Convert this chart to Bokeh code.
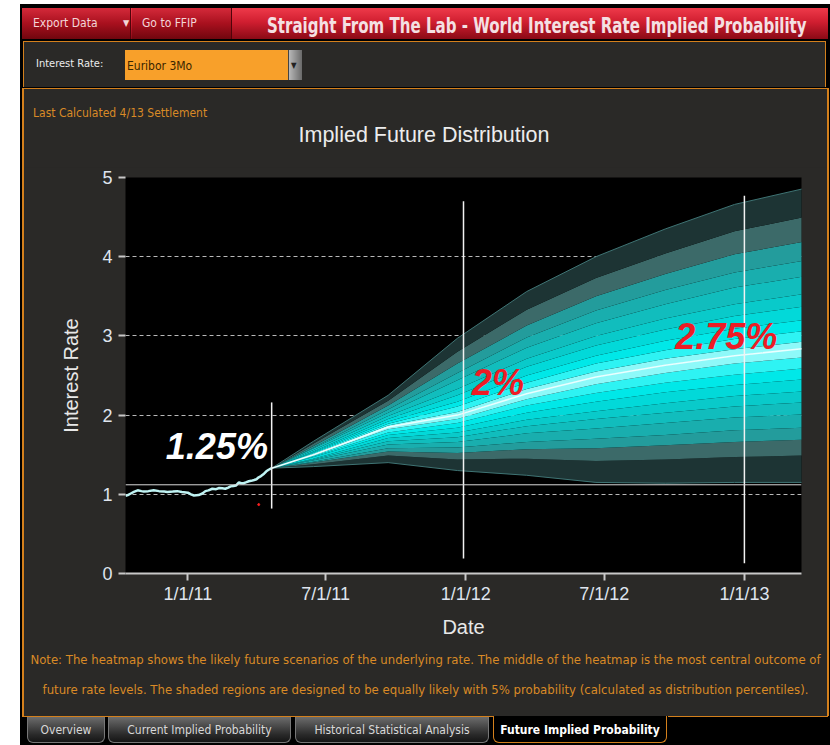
import numpy as np
import pandas as pd
from bokeh.plotting import figure
from bokeh.models import Range1d, FixedTicker, Label, Span, Div, Spacer, ColumnDataSource
from bokeh.layouts import column, row
from bokeh.embed import file_html
from bokeh.resources import INLINE

# ---------------- data ----------------
hist_dates = ["2010-10-11", "2010-10-14", "2010-10-18", "2010-10-22", "2010-10-27", "2010-11-01",
              "2010-11-04", "2010-11-10", "2010-11-17", "2010-11-24", "2010-12-01", "2010-12-05",
              "2010-12-12", "2010-12-18", "2010-12-24", "2011-01-01", "2011-01-05", "2011-01-09",
              "2011-01-15", "2011-01-20", "2011-01-24", "2011-01-28", "2011-02-02", "2011-02-07",
              "2011-02-11", "2011-02-15", "2011-02-19", "2011-02-23", "2011-02-26", "2011-03-02",
              "2011-03-05", "2011-03-09", "2011-03-12", "2011-03-15", "2011-03-18", "2011-03-22",
              "2011-03-25", "2011-03-29", "2011-04-01", "2011-04-04", "2011-04-07", "2011-04-11",
              "2011-04-14", "2011-04-17", "2011-04-21"]
hist_rate = [0.98, 0.99, 1.01, 1.03, 1.05, 1.04,
             1.035, 1.04, 1.05, 1.04, 1.035, 1.03,
             1.035, 1.04, 1.03, 1.02, 1.00, 0.985,
             0.99, 1.01, 1.04, 1.05, 1.07, 1.065,
             1.08, 1.075, 1.07, 1.085, 1.10, 1.105,
             1.11, 1.15, 1.14, 1.14, 1.15, 1.165,
             1.17, 1.18, 1.19, 1.215, 1.23, 1.26,
             1.29, 1.31, 1.33]

fan_dates = ["2011-04-21", "2011-06-15", "2011-09-21", "2011-12-21", "2012-03-21",
             "2012-06-20", "2012-09-19", "2012-12-19", "2013-03-20"]
p00 = [1.33, 1.35, 1.40, 1.30, 1.24, 1.15, 1.14, 1.15, 1.15]
p05 = [1.33, 1.38, 1.49, 1.44, 1.45, 1.42, 1.44, 1.47, 1.49]
p10 = [1.33, 1.40, 1.54, 1.52, 1.57, 1.58, 1.62, 1.66, 1.69]
p15 = [1.33, 1.41, 1.58, 1.59, 1.66, 1.70, 1.75, 1.81, 1.84]
p20 = [1.33, 1.43, 1.63, 1.66, 1.77, 1.83, 1.90, 1.97, 2.01]
p25 = [1.33, 1.44, 1.67, 1.72, 1.86, 1.95, 2.03, 2.11, 2.16]
p30 = [1.33, 1.45, 1.71, 1.78, 1.94, 2.05, 2.15, 2.24, 2.30]
p35 = [1.33, 1.47, 1.75, 1.84, 2.03, 2.17, 2.29, 2.38, 2.45]
p40 = [1.33, 1.48, 1.78, 1.90, 2.12, 2.28, 2.41, 2.51, 2.59]
p45 = [1.33, 1.49, 1.82, 1.95, 2.20, 2.39, 2.53, 2.65, 2.73]
p50 = [1.33, 1.50, 1.85, 2.00, 2.27, 2.48, 2.63, 2.75, 2.84]
p55 = [1.33, 1.51, 1.87, 2.04, 2.33, 2.55, 2.71, 2.83, 2.93]
p60 = [1.33, 1.52, 1.89, 2.11, 2.41, 2.65, 2.82, 2.96, 3.06]
p65 = [1.33, 1.53, 1.92, 2.17, 2.50, 2.75, 2.94, 3.09, 3.20]
p70 = [1.33, 1.54, 1.95, 2.25, 2.61, 2.88, 3.08, 3.25, 3.37]
p75 = [1.33, 1.56, 1.99, 2.33, 2.71, 3.00, 3.22, 3.40, 3.53]
p80 = [1.33, 1.58, 2.03, 2.44, 2.85, 3.16, 3.40, 3.61, 3.75]
p85 = [1.33, 1.59, 2.07, 2.53, 2.98, 3.32, 3.58, 3.80, 3.95]
p90 = [1.33, 1.61, 2.12, 2.65, 3.13, 3.50, 3.78, 4.03, 4.19]
p95 = [1.33, 1.64, 2.18, 2.80, 3.33, 3.73, 4.04, 4.32, 4.50]
p100 = [1.33, 1.67, 2.25, 2.97, 3.56, 4.00, 4.35, 4.66, 4.86]

marker_dates = ["2011-04-21", "2011-12-29", "2013-01-01"]
marker_lo = [0.82, 0.19, 0.13]
marker_hi = [2.16, 4.70, 4.77]
stray_rule_y = 1.12

callout_texts = ["1.25%", "2%", "2.75%"]
callout_dates = ["2010-12-03", "2012-01-09", "2012-10-02"]
callout_y = [1.605, 2.406, 2.994]
callout_colors = ["#ffffff", "#ee1c25", "#ee1c25"]

x_tick_dates = ["2011-01-01", "2011-07-01", "2012-01-01", "2012-07-01", "2013-01-01"]
x_tick_labels = ["1/1/11", "7/1/11", "1/1/12", "7/1/12", "1/1/13"]
y_ticks = [0, 1, 2, 3, 4, 5]

band_colors = ["#1d3434", "#3c6a69", "#239c9c", "#19aeae", "#11bdbd",
               "#09caca", "#02d9d9", "#00e8e8", "#2ef3f3", "#8ef9f9"]


def ms(d):
    return float((np.datetime64(d) - np.datetime64("1970-01-01")) / np.timedelta64(1, "ms"))


AX = "Liberation Sans, Arial, sans-serif"
UI = "'DejaVu Sans Condensed', 'Liberation Sans Narrow', sans-serif"
PANEL = "#2a2927"
ORANGE = "#d4801c"

# ---------------- figure ----------------
p = figure(width=803, height=476, x_axis_type="datetime",
           x_range=Range1d(ms("2010-10-11"), ms("2013-03-17")), y_range=Range1d(0, 5),
           output_backend="svg", toolbar_location=None,
           min_border_left=101, min_border_right=26, min_border_top=10, min_border_bottom=70,
           background_fill_color="black", border_fill_color=PANEL, outline_line_color=None,
           styles={"background-color": PANEL})

percentiles = [p00, p05, p10, p15, p20, p25, p30, p35, p40, p45, p50,
               p55, p60, p65, p70, p75, p80, p85, p90, p95, p100]
fan_src = ColumnDataSource({"x": pd.to_datetime(fan_dates),
                            **{f"q{i}": percentiles[i] for i in range(21)}})
for i in range(20):
    ci = i if i < 10 else 19 - i
    p.varea(x="x", y1=f"q{i}", y2=f"q{i+1}", source=fan_src, fill_color=band_colors[ci])
p.line(x="x", y="q0", source=fan_src, line_color="#3f7474", line_width=1)
p.line(x="x", y="q20", source=fan_src, line_color="#3f7474", line_width=1)
p.line(x="x", y="q10", source=fan_src, line_color="#eaffff", line_width=1.5)

hist_src = ColumnDataSource({"x": pd.to_datetime(hist_dates), "y": hist_rate})
p.line(x="x", y="y", source=hist_src, line_color="#bff3f3", line_width=2.5)

mk_src = ColumnDataSource({"x": pd.to_datetime(marker_dates), "lo": marker_lo, "hi": marker_hi})
p.segment(x0="x", y0="lo", x1="x", y1="hi", source=mk_src, line_color="#f2f2f2", line_width=1.5)

p.scatter(x=pd.to_datetime(["2011-04-04"]), y=[0.87], size=2, color="#ff2020")

for t, d, yv, c in zip(callout_texts, callout_dates, callout_y, callout_colors):
    p.add_layout(Label(x=ms(d), y=yv, text=t, text_color=c, text_font=AX,
                       text_font_size="36px", text_font_style="bold italic",
                       text_align="left", text_baseline="alphabetic"))

p.add_layout(Span(location=stray_rule_y, dimension="width", line_color="#d8d8d8", line_width=1))

# axes
p.xaxis.ticker = FixedTicker(ticks=[ms(d) for d in x_tick_dates])
p.xaxis.major_label_overrides = {ms(d): l for d, l in zip(x_tick_dates, x_tick_labels)}
p.yaxis.ticker = FixedTicker(ticks=y_ticks)
p.xgrid.visible = False
p.ygrid.ticker = FixedTicker(ticks=y_ticks)
p.ygrid.grid_line_color = "#b8b8b8"
p.ygrid.grid_line_dash = "4 3"
p.ygrid.grid_line_width = 1

for ax in (p.xaxis[0], p.yaxis[0]):
    ax.major_tick_line_color = "#c8c8c8"
    ax.major_tick_line_width = 2
    ax.major_tick_out = 7
    ax.major_tick_in = 0
    ax.minor_tick_line_color = None
    ax.major_label_text_color = "#dfe4ee"
    ax.major_label_text_font = AX
    ax.major_label_text_font_size = "18px"
    ax.axis_label_text_color = "#e8e8e8"
    ax.axis_label_text_font = AX
    ax.axis_label_text_font_size = "20px"
    ax.axis_label_text_font_style = "normal"
p.xaxis.axis_line_color = "#c8c8c8"
p.xaxis.axis_line_width = 2
p.yaxis.axis_line_color = None
p.xaxis.axis_label = "Date"
p.yaxis.axis_label = "Interest Rate"
p.xaxis.major_label_standoff = 3
p.xaxis.axis_label_standoff = 9
p.yaxis.major_label_standoff = 6
p.yaxis.axis_label_standoff = 17

# ---------------- surrounding widgets ----------------
header_html = f"""
<div style="position:relative;width:810px;height:88px;font-family:{UI};overflow:hidden;">
  <div style="position:absolute;left:0;top:4px;width:810px;height:84px;background:#000;"></div>
  <div style="position:absolute;left:2px;top:8px;width:806px;height:31px;
       background:linear-gradient(#ee3a4a,#d01e30 45%,#8a0a16);"></div>
  <div style="position:absolute;left:2px;top:8px;width:109px;height:31px;
       background:linear-gradient(#d42a3a,#a8101e 50%,#70060e);border-right:1px solid #50040a;"></div>
  <div style="position:absolute;left:112px;top:8px;width:100px;height:31px;
       background:linear-gradient(#d42a3a,#a8101e 50%,#70060e);border-right:1px solid #50040a;"></div>
  <div style="position:absolute;left:13px;top:15px;font-size:12px;color:#f3d6d8;">Export Data</div>
  <div style="position:absolute;left:103px;top:17px;font-size:9px;color:#f3d6d8;">&#9660;</div>
  <div style="position:absolute;left:122px;top:15px;font-size:12px;color:#f3d6d8;">Go to FFIP</div>
  <div style="position:absolute;left:247px;top:10px;font-size:22px;font-weight:bold;color:#f4e0e3;
       white-space:nowrap;transform-origin:0 0;transform:scaleX(0.76);">Straight From The Lab - World Interest Rate Implied Probability</div>
  <div style="position:absolute;left:3px;top:41px;width:803px;height:46px;background:{PANEL};
       border:1px solid {ORANGE};border-bottom:none;"></div>
  <div style="position:absolute;left:16px;top:56px;font-size:11px;color:#ececec;">Interest Rate:</div>
  <div style="position:absolute;left:105px;top:50px;width:163px;height:30px;background:#f8a02a;"></div>
  <div style="position:absolute;left:107px;top:58px;font-size:12px;color:#3a2600;">Euribor 3Mo</div>
  <div style="position:absolute;left:268px;top:50px;width:14px;height:30px;
       background:linear-gradient(to right,#b8b8b8,#6a6a6a);border-left:1px solid #444;"></div>
  <div style="position:absolute;left:271px;top:60px;font-size:8px;color:#222;">&#9660;</div>
</div>
"""
header = Div(text=header_html, width=810, height=88, margin=0)

top_html = f"""
<div style="position:relative;width:803px;height:79px;background:{PANEL};font-family:{UI};
     border-top:1px solid {ORANGE};box-sizing:border-box;">
  <div style="position:absolute;left:9px;top:16px;font-size:12px;color:#d98a26;white-space:nowrap;">Last Calculated 4/13 Settlement</div>
  <div style="position:absolute;left:0;top:31px;width:800px;text-align:center;font-size:21.5px;color:#ececec;
       font-family:{AX};">Implied Future Distribution</div>
</div>
"""
top_div = Div(text=top_html, width=803, height=79, margin=0, styles={"background-color": PANEL})

notes_html = f"""
<div style="position:relative;width:803px;height:73px;background:{PANEL};font-family:{UI};
     color:#d98a26;font-size:13px;text-align:center;line-height:30px;padding-top:2px;box-sizing:border-box;white-space:nowrap;">
  Note: The heatmap shows the likely future scenarios of the underlying rate. The middle of the heatmap is the most central outcome of<br>
  future rate levels. The shaded regions are designed to be equally likely with 5% probability (calculated as distribution percentiles).
</div>
"""
notes_div = Div(text=notes_html, width=803, height=73, margin=0, styles={"background-color": PANEL})

tab_css = ("position:absolute;top:1px;height:26px;background:linear-gradient(#6c6c6c,#2a2a2a 70%,#151515);"
           "border:1px solid #777;border-top:none;border-radius:0 0 6px 6px;color:#d8d8d8;"
           "font-size:12px;text-align:center;line-height:26px;white-space:nowrap;")
tabs_html = f"""
<div style="position:relative;width:810px;height:29px;background:#000;font-family:{UI};">
  <div style="position:absolute;left:2px;top:0;width:472px;height:1px;background:{ORANGE};"></div>
  <div style="position:absolute;left:648px;top:0;width:160px;height:1px;background:{ORANGE};"></div>
  <div style="{tab_css}left:7px;width:78px;">Overview</div>
  <div style="{tab_css}left:88px;width:183px;">Current Implied Probability</div>
  <div style="{tab_css}left:275px;width:194px;">Historical Statistical Analysis</div>
  <div style="position:absolute;left:473px;top:0;width:174px;height:27px;background:#000;
       border:1px solid {ORANGE};border-top:none;border-radius:0 0 6px 6px;color:#ffffff;
       font-weight:bold;font-size:12px;text-align:center;line-height:28px;white-space:nowrap;">Future Implied Probability</div>
</div>
"""
tabs = Div(text=tabs_html, width=810, height=29, margin=0, styles={"background-color": "#000"})

lb = Div(text="", width=4, height=628, margin=0,
         styles={"background": f"linear-gradient(to right, #000 2px, {ORANGE} 2px)"})
rb = Div(text="", width=3, height=628, margin=0,
         styles={"background": f"linear-gradient(to right, {ORANGE} 2px, #000 2px)"})

panel = column(top_div, p, notes_div, spacing=0, styles={"background-color": PANEL})
layout = row(Spacer(width=20, height=10),
             column(header, row(lb, panel, rb, spacing=0), tabs, spacing=0), spacing=0)

open("out.html", "w").write(file_html(layout, INLINE))
